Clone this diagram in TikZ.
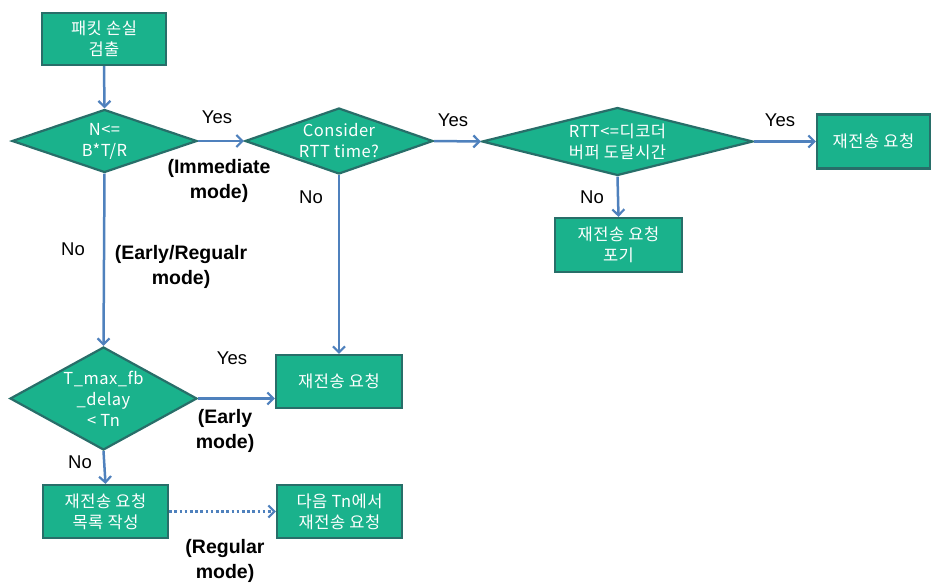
\documentclass[tikz,border=0pt]{standalone}
\usepackage{fontspec}
\setmainfont{Liberation Sans}
\newfontfamily\kr[LetterSpace=3]{Noto Sans CJK KR}
\usetikzlibrary{shapes.geometric,arrows.meta}
\definecolor{boxfill}{RGB}{26,178,140}
\definecolor{boxline}{RGB}{40,110,105}
\definecolor{arrowblue}{RGB}{79,129,189}
\tikzset{
  box/.style={draw=boxline, line width=2.2pt, fill=boxfill, text=white, align=center,
    inner sep=0pt, font=\kr\fontsize{16.5}{21}\selectfont},
  dia/.style={diamond, draw=boxline, line width=2.2pt, fill=boxfill, text=white, align=center,
    inner sep=0pt, font=\kr\fontsize{16.5}{21}\selectfont},
  conn/.style={draw=arrowblue, line width=2.5pt, -{Straight Barb[length=6pt,width=12pt,line width=2.2pt]}},
  lbl/.style={font=\fontsize{18.5}{22}\selectfont, text=black},
  mode/.style={font=\bfseries\fontsize{19.5}{25}\selectfont, align=center, text=black}
}
\begin{document}
\begin{tikzpicture}[x=1pt,y=-1pt]
\useasboundingbox[fill=white] (0,0) rectangle (932,582);

\node[box, minimum width=124pt, minimum height=52pt] (start) at (104,39) {패킷 손실\\검출};
\node[dia, aspect=2.9, minimum width=185pt, minimum height=63pt] (d1) at (104.5,141) {N<=\\B*T/R};
\node[dia, aspect=2.85, minimum width=188pt, minimum height=66pt] (d2) at (339,141) {Consider\\RTT time?};
\node[dia, aspect=4, minimum width=271pt, minimum height=68pt] (d3) at (617.5,141.5) {RTT<=디코더\\버퍼 도달시간};
\node[box, minimum width=113pt, minimum height=54pt] (r1) at (873.5,141.5) {재전송 요청};
\node[box, minimum width=127pt, minimum height=54pt] (giveup) at (618.5,245) {재전송 요청\\포기};
\node[box, minimum width=126pt, minimum height=53pt] (mid) at (339,381.5) {재전송 요청};
\node[dia, aspect=1.8, minimum width=187pt, minimum height=103pt] (d4) at (103.5,398.5) {T\_max\_fb\\\_delay\\< Tn};
\node[box, minimum width=125pt, minimum height=53pt] (list) at (105.5,511.5) {재전송 요청\\목록 작성};
\node[box, minimum width=125pt, minimum height=53pt] (next) at (339.5,511.5) {다음 Tn에서\\재전송 요청};

\draw[conn] (start.south) -- (d1.north);
\draw[conn] (d1.east) -- (d2.west);
\draw[conn] (d2.east) -- (d3.west);
\draw[conn] (d3.east) -- (r1.west);
\draw[conn] (d3.south) -- (giveup.north);
\draw[conn] (d2.south) -- (mid.north);
\draw[conn] (d1.south) -- (d4.north);
\draw[conn] (d4.east) -- (d4.east -| mid.west);
\draw[conn] (d4.south) -- (list.north);
\draw[conn, dash pattern=on 2.6pt off 2.6pt, line width=3pt] (list.east) -- (next.west);

\node[lbl] (y1) at (217,117) {Yes};
\node[mode] (m1) at (219,181) {(Immediate\\mode)};
\node[lbl] (n2) at (311,197) {No};
\node[lbl] (y2) at (453,120) {Yes};
\node[lbl] (y3) at (780,120) {Yes};
\node[lbl] (n3) at (592,197) {No};
\node[lbl] (n1) at (73,249) {No};
\node[mode] (m2) at (181,267) {(Early/Regualr\\mode)};
\node[lbl] (y4) at (232,358) {Yes};
\node[mode] (m3) at (225,431) {(Early\\mode)};
\node[lbl] (n4) at (80,462) {No};
\node[mode] (m4) at (225,561) {(Regular\\mode)};
\end{tikzpicture}
\end{document}
